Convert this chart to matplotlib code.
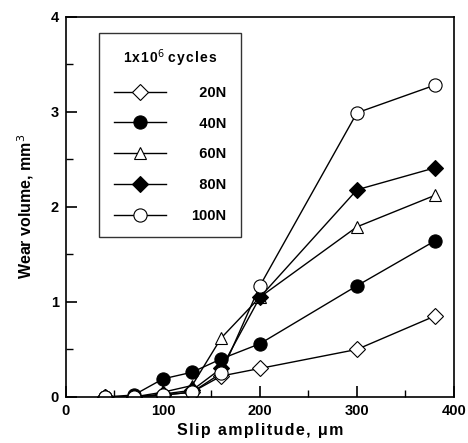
import matplotlib
matplotlib.use("Agg")
import matplotlib.pyplot as plt
from matplotlib.ticker import MultipleLocator

plt.rcParams['font.family'] = ['Liberation Sans', 'DejaVu Sans']

slip = [40, 70, 100, 130, 160, 200, 300, 380]
wear_20N = [0.0, 0.0, 0.02, 0.05, 0.22, 0.30, 0.50, 0.85]
wear_40N = [0.0, 0.02, 0.19, 0.26, 0.40, 0.56, 1.17, 1.64]
wear_60N = [0.0, 0.0, 0.05, 0.12, 0.62, 1.05, 1.79, 2.12]
wear_80N = [0.0, 0.0, 0.03, 0.07, 0.30, 1.05, 2.18, 2.41]
wear_100N = [0.0, 0.0, 0.02, 0.05, 0.25, 1.17, 2.99, 3.28]
labels = ['  20N', '  40N', '  60N', '  80N', '100N']

fig = plt.figure(figsize=(4.68, 4.43), dpi=100)
ax = fig.add_axes([0.141, 0.104, 0.829, 0.858])

styles = [
    dict(marker='D', mfc='white', ms=8),
    dict(marker='o', mfc='black', ms=9.5),
    dict(marker='^', mfc='white', ms=8),
    dict(marker='D', mfc='black', ms=8),
    dict(marker='o', mfc='white', ms=9.5),
]
for y, lab, st in zip([wear_20N, wear_40N, wear_60N, wear_80N, wear_100N], labels, styles):
    ax.plot(slip, y, color='black', lw=1, mec='black', mew=0.8, label=lab, **st)

ax.set_xlim(0, 400)
ax.set_ylim(0, 4)
ax.xaxis.set_major_locator(MultipleLocator(100))
ax.xaxis.set_minor_locator(MultipleLocator(50))
ax.yaxis.set_major_locator(MultipleLocator(1))
ax.yaxis.set_minor_locator(MultipleLocator(0.5))
ax.tick_params(which='major', direction='in', length=8, width=1.2, top=False, right=False,
               labelsize=10.5, pad=5)
ax.tick_params(which='minor', direction='in', length=5, width=1, top=False, right=False)
for lab in ax.get_xticklabels() + ax.get_yticklabels():
    lab.set_fontweight('bold')
for s in ax.spines.values():
    s.set_linewidth(1.2)

hs = '\u200a'
ax.set_xlabel(hs.join('Slip amplitude, \u03bcm'), fontsize=11.5, fontweight='bold', labelpad=4)
ax.set_ylabel('Wear volume, mm$^3$', fontsize=11.5, fontweight='bold', labelpad=11)

title = hs.join('1x10') + '$^6$ ' + hs.join('cycles')
leg = ax.legend(loc='upper left', bbox_to_anchor=(0.085, 0.958), frameon=True,
                fancybox=False, edgecolor='black', title=title,
                handlelength=3.6, handletextpad=1.7, labelspacing=1.15,
                borderpad=1.0, borderaxespad=0, prop={'weight': 'bold', 'size': 10.5},
                alignment='center')
leg.get_title().set_fontweight('bold')
leg.get_title().set_fontsize(10)
leg.get_frame().set_linewidth(1)

fig.savefig('out.png', dpi=100)
